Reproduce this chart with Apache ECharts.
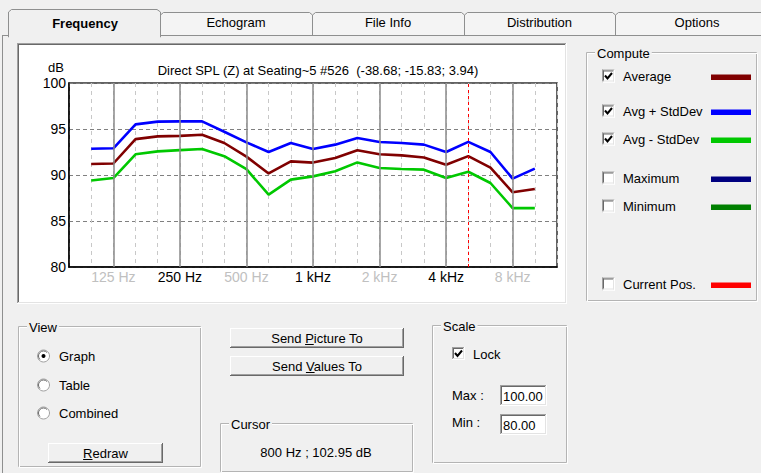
<!DOCTYPE html>
<html>
<head>
<meta charset="utf-8">
<title>Frequency</title>
<script src="https://cdn.jsdelivr.net/npm/echarts@6/dist/echarts.min.js"></script>
<style>
html, body { margin: 0; padding: 0; background: #f0f0f0; }
#main { width: 761px; height: 473px; }
</style>
</head>
<body>
<div id="main"></div>
<script>
// 1/3 octave bands on the x axis (80 Hz and 12.5 kHz are only the plot edges)
var allBands = ['80', '100', '125', '160', '200', '250', '315', '400', '500', '630', '800',
	'1k', '1.25k', '1.6k', '2k', '2.5k', '3.15k', '4k', '5k', '6.3k', '8k', '10k', '12.5k'];
var bands = ['100', '125', '160', '200', '250', '315', '400', '500', '630', '800',
	'1k', '1.25k', '1.6k', '2k', '2.5k', '3.15k', '4k', '5k', '6.3k', '8k', '10k'];

// dB values
var avgPlus = [92.85, 92.9, 95.5, 95.8, 95.83, 95.83, 94.7, 93.55, 92.5, 93.48, 92.83,
	93.3, 94.02, 93.58, 93.48, 93.3, 92.5, 93.6, 92.5, 89.6, 90.7];
var avg = [91.2, 91.25, 93.9, 94.2, 94.25, 94.38, 93.48, 92.0, 90.17, 91.48, 91.35,
	91.85, 92.7, 92.25, 92.13, 91.9, 91.12, 92.05, 90.8, 88.12, 88.48];
var avgMinus = [89.41, 89.67, 92.25, 92.57, 92.7, 92.82, 92.05, 90.63, 87.86, 89.5, 89.85,
	90.4, 91.37, 90.76, 90.66, 90.58, 89.67, 90.35, 89.13, 86.4, 86.4];

var octaveBands = ['125', '250', '500', '1k', '2k', '4k', '8k'];
var octaveLabels = ['125 Hz', '250 Hz', '500 Hz', '1 kHz', '2 kHz', '4 kHz', '8 kHz'];
var octaveDim = [true, false, true, false, true, false, true];
var cursorBand = '5k';
var yMin = 80, yMax = 100, yStep = 5;

var chartTitle = 'Direct SPL (Z) at Seating~5 #526  (-38.68; -15.83; 3.94)';
var tabNames = ['Frequency', 'Echogram', 'File Info', 'Distribution', 'Options'];
var computeItems = ['Average', 'Avg + StdDev', 'Avg - StdDev', 'Maximum', 'Minimum', 'Current Pos.'];
var computeChecked = [true, true, true, false, false, false];
var computeColors = ['#800000', '#0000ff', '#00c800', '#000080', '#008000', '#ff0000'];
var viewItems = ['Graph', 'Table', 'Combined'];

var FF = '"Liberation Sans", Arial, sans-serif';
var octaveIdx = octaveBands.map(function(b) { return allBands.indexOf(b); });

function pairs(vals) {
	return bands.map(function(b, i) { return [allBands.indexOf(b), vals[i]]; });
}

// ---- dialog chrome (graphic elements) ----
var els = [];
var measureCtx = document.createElement('canvas').getContext('2d');
function textW(s, size) {
	measureCtx.font = size + 'px ' + FF;
	return measureCtx.measureText(s).width;
}
function T(x, y, s, o) {
	o = o || {};
	var st = {
		x: x, y: y, text: s, fill: o.color || '#000',
		font: (o.bold ? 'bold ' : '') + (o.size || 13) + 'px ' + FF,
		align: o.align || 'left', textAlign: o.align || 'left',
		verticalAlign: 'middle', textVerticalAlign: 'middle'
	};
	if (o.bg) { st.backgroundColor = o.bg; st.padding = [0, 2]; }
	els.push({ type: 'text', z: 30, silent: true, style: st });
}
function L(x1, y1, x2, y2, c, w, z) {
	els.push({ type: 'line', z: z || 20, silent: true,
		shape: { x1: x1, y1: y1, x2: x2, y2: y2 }, style: { stroke: c, lineWidth: w || 1 } });
}
function R(x, y, w, h, fill, stroke, z) {
	els.push({ type: 'rect', z: z || 18, silent: true,
		shape: { x: x, y: y, width: w, height: h },
		style: { fill: fill || 'none', stroke: stroke || 'none', lineWidth: 1 } });
}
function sunken(x, y, w, h, z) {
	R(x, y, w, h, '#fff', null, z);
	L(x, y + 0.5, x + w, y + 0.5, '#a0a0a0', 1, z + 1);
	L(x + 0.5, y, x + 0.5, y + h, '#a0a0a0', 1, z + 1);
	L(x + 1, y + 1.5, x + w - 1, y + 1.5, '#696969', 1, z + 1);
	L(x + 1.5, y + 1, x + 1.5, y + h - 1, '#696969', 1, z + 1);
	L(x, y + h - 0.5, x + w, y + h - 0.5, '#ffffff', 1, z + 1);
	L(x + w - 0.5, y, x + w - 0.5, y + h, '#ffffff', 1, z + 1);
	L(x + 1, y + h - 1.5, x + w - 1, y + h - 1.5, '#e3e3e3', 1, z + 1);
	L(x + w - 1.5, y + 1, x + w - 1.5, y + h - 1, '#e3e3e3', 1, z + 1);
}
function groupBox(x, y, w, h, title) {
	R(x + 0.5, y + 0.5, w - 1, h - 1, null, '#b4b4b4');
	R(x + 1.5, y + 1.5, w - 1, h - 1, null, '#ffffff');
	T(x + 9, y + 1, title, { bg: '#f0f0f0' });
}
function button(x, y, w, h, label, ul) {
	R(x, y, w, h, '#f0f0f0');
	L(x, y + 0.5, x + w, y + 0.5, '#ffffff');
	L(x + 0.5, y, x + 0.5, y + h, '#ffffff');
	L(x, y + h - 0.5, x + w, y + h - 0.5, '#696969');
	L(x + w - 0.5, y, x + w - 0.5, y + h, '#696969');
	L(x + 1, y + h - 1.5, x + w - 1, y + h - 1.5, '#a0a0a0');
	L(x + w - 1.5, y + 1, x + w - 1.5, y + h - 1, '#a0a0a0');
	var cx = x + w / 2, cy = y + h / 2;
	T(cx, cy, label, { align: 'center' });
	var start = cx - textW(label, 13) / 2;
	var ux = start + textW(label.slice(0, ul), 13);
	L(ux, cy + 6.5, ux + textW(label.charAt(ul), 13), cy + 6.5, '#000');
}
function checkbox(x, y, checked) {
	sunken(x, y, 13, 13, 19);
	if (checked) {
		els.push({ type: 'polyline', z: 25, silent: true,
			shape: { points: [[x + 3, y + 6], [x + 5.5, y + 9], [x + 10, y + 3.5]] },
			style: { stroke: '#000', fill: 'none', lineWidth: 2 } });
	}
}
function radio(cx, cy, on) {
	els.push({ type: 'circle', z: 20, silent: true, shape: { cx: cx, cy: cy, r: 6 },
		style: { fill: '#fff', stroke: '#a0a0a0', lineWidth: 1 } });
	els.push({ type: 'arc', z: 21, silent: true, shape: { cx: cx, cy: cy, r: 5, startAngle: Math.PI * 0.75, endAngle: Math.PI * 1.75 },
		style: { stroke: '#696969', fill: 'none', lineWidth: 1 } });
	if (on) {
		els.push({ type: 'circle', z: 22, silent: true, shape: { cx: cx, cy: cy, r: 2 },
			style: { fill: '#000' } });
	}
}

// tabs
var tabX = [160, 312, 464, 615, 779];
for (var i = 1; i < tabNames.length; i++) {
	var x1 = tabX[i - 1], x2 = tabX[i];
	els.push({ type: 'polyline', z: 16, silent: true,
		shape: { points: [[x1 + 0.5, 35], [x1 + 0.5, 15], [x1 + 3.5, 12.5], [x2 - 2.5, 12.5], [x2 + 0.5, 15], [x2 + 0.5, 35]] },
		style: { stroke: '#8e8f8f', fill: '#f4f4f4', lineWidth: 1 } });
	T((x1 + x2) / 2, 22, tabNames[i], { align: 'center' });
}
L(2, 35.5, 761, 35.5, '#8e8f8f', 1, 15);
L(2.5, 35, 2.5, 473, '#8e8f8f', 1, 15);
els.push({ type: 'polygon', z: 17, silent: true,
	shape: { points: [[8.5, 37], [8.5, 12], [11.5, 9.5], [157, 9.5], [160.5, 12], [160.5, 37]] },
	style: { stroke: '#8e8f8f', fill: '#f0f0f0', lineWidth: 1 } });
R(9, 34, 151, 4, '#f0f0f0', null, 18);
T(85, 23, tabNames[0], { align: 'center', bold: true });

// chart frame
sunken(17, 43, 550, 261, -10);
T(56, 67, 'dB', { align: 'center' });

// Compute group
groupBox(586, 52, 171, 249, 'Compute');
var rowY = [76, 111, 139, 178, 206, 284];
for (var k = 0; k < computeItems.length; k++) {
	checkbox(602, rowY[k] - 6.5, computeChecked[k]);
	T(623, rowY[k], computeItems[k]);
	R(711, rowY[k] - 1.5, 40, 5.5, computeColors[k], null, 20);
}

// View group
groupBox(18, 326, 183, 141, 'View');
var radioY = [356, 385, 413];
for (var v = 0; v < viewItems.length; v++) {
	radio(43.5, radioY[v], v === 0);
	T(59, radioY[v], viewItems[v]);
}
button(48, 443, 115, 20, 'Redraw', 0);

// buttons and cursor
button(230, 328, 174, 20, 'Send Picture To', 5);
button(230, 356, 174, 20, 'Send Values To', 5);
groupBox(220, 423, 193, 49, 'Cursor');
T(316, 452, '800 Hz ; 102.95 dB', { align: 'center' });

// Scale group
groupBox(432, 325, 135, 138, 'Scale');
checkbox(452, 347, true);
T(473, 354, 'Lock');
T(452, 395, 'Max :');
sunken(500, 385, 47, 21, 19);
T(503, 396, '100.00');
T(452, 422, 'Min :');
sunken(500, 414, 47, 21, 19);
T(503, 425, '80.00');

// ---- chart ----
var chart = echarts.init(document.getElementById('main'), null, { renderer: 'svg', width: 761, height: 473 });

var option = {
	animation: false,
	backgroundColor: '#f0f0f0',
	title: {
		text: chartTitle,
		left: 313,
		top: 59,
		textAlign: 'center',
		textStyle: { fontSize: 13, fontWeight: 'normal', color: '#000', fontFamily: FF }
	},
	grid: {
		left: 69,
		top: 83,
		right: 204,
		bottom: 206,
		show: true,
		backgroundColor: '#fff',
		borderColor: '#303030',
		borderWidth: 1.5
	},
	xAxis: {
		type: 'value',
		min: 0,
		max: allBands.length - 1,
		interval: 1,
		axisLine: { show: true, lineStyle: { color: '#000', width: 1.5 } },
		axisTick: { show: false },
		splitLine: { show: true, lineStyle: { color: '#c8c8c8', type: [4, 4], width: 1 } },
		axisLabel: {
			margin: 3,
			fontFamily: FF,
			fontSize: 14,
			formatter: function(val) {
				var k = octaveIdx.indexOf(val);
				if (k < 0) return '';
				return '{' + (octaveDim[k] ? 'd' : 'n') + '|' + octaveLabels[k] + '}';
			},
			rich: {
				d: { color: '#c0c0c0', fontSize: 14, fontFamily: FF },
				n: { color: '#000', fontSize: 14, fontFamily: FF }
			}
		}
	},
	yAxis: {
		type: 'value',
		min: yMin,
		max: yMax,
		interval: yStep,
		axisLine: { show: true, lineStyle: { color: '#000', width: 1.5 } },
		axisTick: { show: false },
		splitLine: { show: true, lineStyle: { color: '#808080', type: [4, 3], width: 1 } },
		axisLabel: { color: '#000', fontSize: 14, fontFamily: FF, margin: 3 }
	},
	series: [{
			// octave grid lines and cursor position
			type: 'line',
			data: [],
			z: 1,
			markLine: {
				silent: true,
				symbol: 'none',
				label: { show: false },
				data: octaveIdx.map(function(ix) {
					return { xAxis: ix, lineStyle: { color: '#8a8a8a', type: 'solid', width: 1.5 } };
				}).concat([{ xAxis: allBands.indexOf(cursorBand), lineStyle: { color: '#ff0000', type: [3, 3], width: 1 } }])
			}
		},
		{
			name: 'Avg - StdDev',
			type: 'line',
			data: pairs(avgMinus),
			symbol: 'none',
			z: 3,
			lineStyle: { color: computeColors[2], width: 2.6 }
		},
		{
			name: 'Average',
			type: 'line',
			data: pairs(avg),
			symbol: 'none',
			z: 3,
			lineStyle: { color: computeColors[0], width: 2.6 }
		},
		{
			name: 'Avg + StdDev',
			type: 'line',
			data: pairs(avgPlus),
			symbol: 'none',
			z: 3,
			lineStyle: { color: computeColors[1], width: 2.6 }
		}
	],
	graphic: { elements: els }
};
chart.setOption(option);
</script>
</body>
</html>
